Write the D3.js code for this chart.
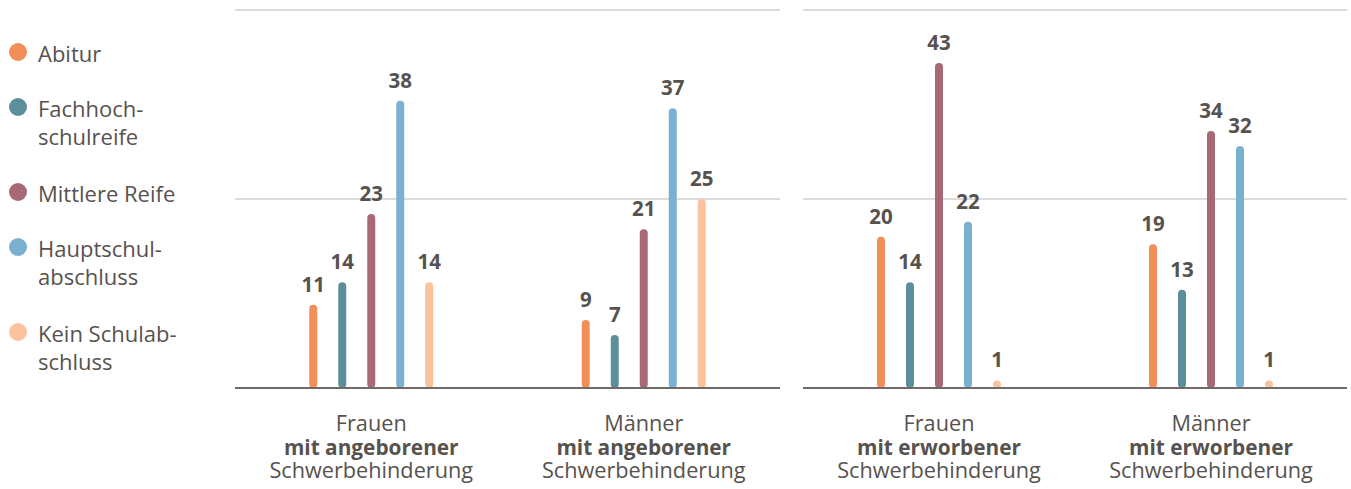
<!DOCTYPE html>
<html><head><meta charset="utf-8">
<script src="https://cdn.jsdelivr.net/npm/d3@7"></script>
<style>
body{margin:0;background:#fff;}
svg{display:block;font-family:"Open Sans",sans-serif;}
</style></head>
<body><svg id="c" width="1351" height="489"></svg>
<script>
const categories = ["Abitur","Fachhochschulreife","Mittlere Reife","Hauptschulabschluss","Kein Schulabschluss"];
const legendLabels = [["Abitur"],["Fachhoch-","schulreife"],["Mittlere Reife"],["Hauptschul-","abschluss"],["Kein Schulab-","schluss"]];
const colors = ["#f28e57","#5b8f9a","#a86977","#7ab1d0","#fbc39d"];
const panels = ["angeborener","erworbener"];
const groups = ["Frauen","Männer"];
const valFrauenAngeb = [11,14,23,38,14];
const valMaennerAngeb = [9,7,21,37,25];
const valFrauenErw = [20,14,43,22,1];
const valMaennerErw = [19,13,34,32,1];
const panelValues = [[valFrauenAngeb,valMaennerAngeb],[valFrauenErw,valMaennerErw]];
const yTicks = [0,25,50];

const svg = d3.select("#c");
const textColor = "#57524e";
const y = d3.scaleLinear().domain([0,50]).range([388,10]);
const panelX = d3.scaleOrdinal().domain(panels).range([[235,780],[803,1347]]);
const inner = d3.scaleBand().domain(categories).range([-72.5,72.5]);

panels.forEach((p,pi)=>{
  const [x0,x1] = panelX(p);
  const gx = d3.scaleBand().domain(groups).range([x0,x1]);
  const g = svg.append("g");
  g.selectAll("line.grid").data(yTicks.filter(t=>t>0)).join("line")
    .attr("x1",x0).attr("x2",x1).attr("y1",d=>y(d)).attr("y2",d=>y(d))
    .attr("stroke","#cfcfcf").attr("stroke-width",1.5);
  groups.forEach((gr,gi)=>{
    const cx = gx(gr)+gx.bandwidth()/2;
    const vals = panelValues[pi][gi];
    const bw = 8;
    g.selectAll(null).data(vals).join("rect")
      .attr("x",(d,i)=>cx+inner(categories[i])+inner.bandwidth()/2-bw/2)
      .attr("y",d=>y(d)).attr("width",bw).attr("height",d=>y(0)-y(d))
      .attr("rx",4)
      .attr("fill",(d,i)=>colors[i]);
    g.selectAll(null).data(vals).join("text")
      .attr("x",(d,i)=>cx+inner(categories[i])+inner.bandwidth()/2)
      .attr("y",d=>y(d)-13)
      .attr("text-anchor","middle").attr("font-weight","bold").attr("font-size",20.5)
      .attr("fill",textColor).text(d=>d);
    const t = g.append("text").attr("text-anchor","middle").attr("fill",textColor).attr("font-size",21.7);
    t.append("tspan").attr("x",cx).attr("y",431).text(gr);
    t.append("tspan").attr("x",cx).attr("y",454.5).attr("font-weight","bold").attr("font-size",20.8).text("mit "+p);
    t.append("tspan").attr("x",cx).attr("y",478).text("Schwerbehinderung");
  });
  g.append("line").attr("x1",x0).attr("x2",x1).attr("y1",y(0)).attr("y2",y(0))
    .attr("stroke","#6e6a66").attr("stroke-width",2);
});

const legendY = [52,107,192,247,332];
const lg = svg.append("g");
legendLabels.forEach((lines,i)=>{
  lg.append("circle").attr("cx",18).attr("cy",legendY[i]).attr("r",9).attr("fill",colors[i]);
  const t = lg.append("text").attr("fill",textColor).attr("font-size",22);
  lines.forEach((l,j)=>t.append("tspan").attr("x",38).attr("y",legendY[i]+10+j*28).text(l));
});
</script></body></html>
